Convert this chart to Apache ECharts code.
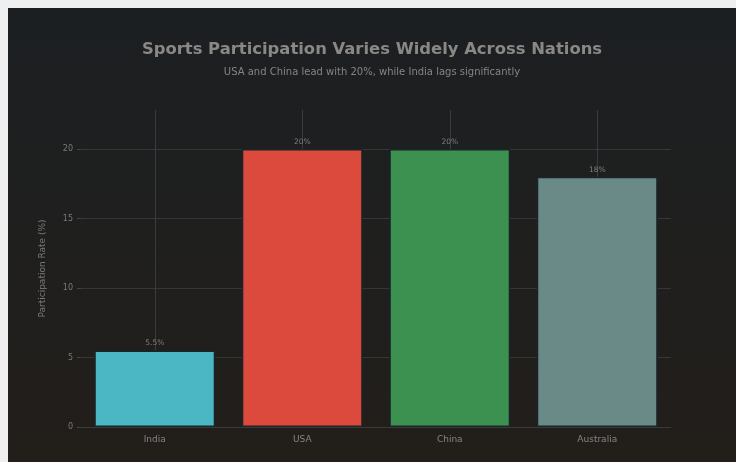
<!DOCTYPE html>
<html>
<head>
<meta charset="utf-8">
<script src="https://cdn.jsdelivr.net/npm/echarts@6/dist/echarts.min.js"></script>
<style>
  html, body { margin: 0; padding: 0; background: #efefef; }
  #chart {
    position: absolute; left: 8px; top: 8px; width: 728px; height: 454px;
    background: linear-gradient(to bottom, #1c1f22 0%, #1f1f1e 50%, #221e1a 100%);
  }
</style>
</head>
<body>
<div id="chart"></div>
<script>
// Données du graphique
var pays = ['India', 'USA', 'China', 'Australia'];
var taux = [5.5, 20, 20, 18];
var etiquettes = ['5.5%', '20%', '20%', '18%'];
var couleurs = ['#4bb6c4', '#dc4a3d', '#3d9150', '#6a8a87'];
var ticksY = [0, 5, 10, 15, 20];

var chart = echarts.init(document.getElementById('chart'));

var points = [];
for (var i = 0; i < taux.length; i++) {
	points.push({
		value: taux[i],
		itemStyle: { color: couleurs[i] },
		label: { formatter: etiquettes[i] }
	});
}

var options = {
	title: {
		text: 'Sports Participation Varies Widely Across Nations',
		subtext: 'USA and China lead with 20%, while India lags significantly',
		left: 'center',
		top: 29,
		itemGap: 9,
		textStyle: { color: '#8a8884', fontSize: 16.4, fontWeight: 'bold', fontFamily: 'DejaVu Sans' },
		subtextStyle: { color: '#858585', fontSize: 10, fontFamily: 'DejaVu Sans' }
	},
	grid: { left: 73, right: 65, top: 102, bottom: 35 },
	xAxis: {
		type: 'category',
		data: pays,
		axisLine: { lineStyle: { color: '#3a3a38' } },
		axisTick: { show: false },
		axisLabel: { color: '#858585', fontSize: 9, margin: 8, fontFamily: 'DejaVu Sans' },
		splitLine: { show: false }
	},
	yAxis: {
		type: 'value',
		min: 0,
		max: 22.8,
		name: 'Participation Rate (%)',
		nameLocation: 'middle',
		nameGap: 34,
		nameTextStyle: { color: '#7a7a7a', fontSize: 9, fontFamily: 'DejaVu Sans' },
		axisLine: { show: false },
		axisTick: { show: true, length: 4, customValues: ticksY, lineStyle: { color: '#444' } },
		axisLabel: { color: '#7a7a7a', fontSize: 8, margin: 8, customValues: ticksY, fontFamily: 'DejaVu Sans' },
		splitLine: { lineStyle: { color: '#34363a', width: 1 } }
	},
	series: [{
		type: 'bar',
		data: points,
		barCategoryGap: '18%',
		itemStyle: { borderColor: '#1b2428', borderWidth: 1.5 },
		label: { show: true, position: 'top', distance: 3, color: '#7f7f7f', fontSize: 7.5, fontFamily: 'DejaVu Sans' },
		markLine: {
			silent: true,
			symbol: 'none',
			label: { show: false },
			lineStyle: { color: '#3a3b3d', type: 'solid', width: 1 },
			z: 0,
			data: pays.map(function (p) { return { xAxis: p }; })
		}
	}]
};

chart.setOption(options);
</script>
</body>
</html>
